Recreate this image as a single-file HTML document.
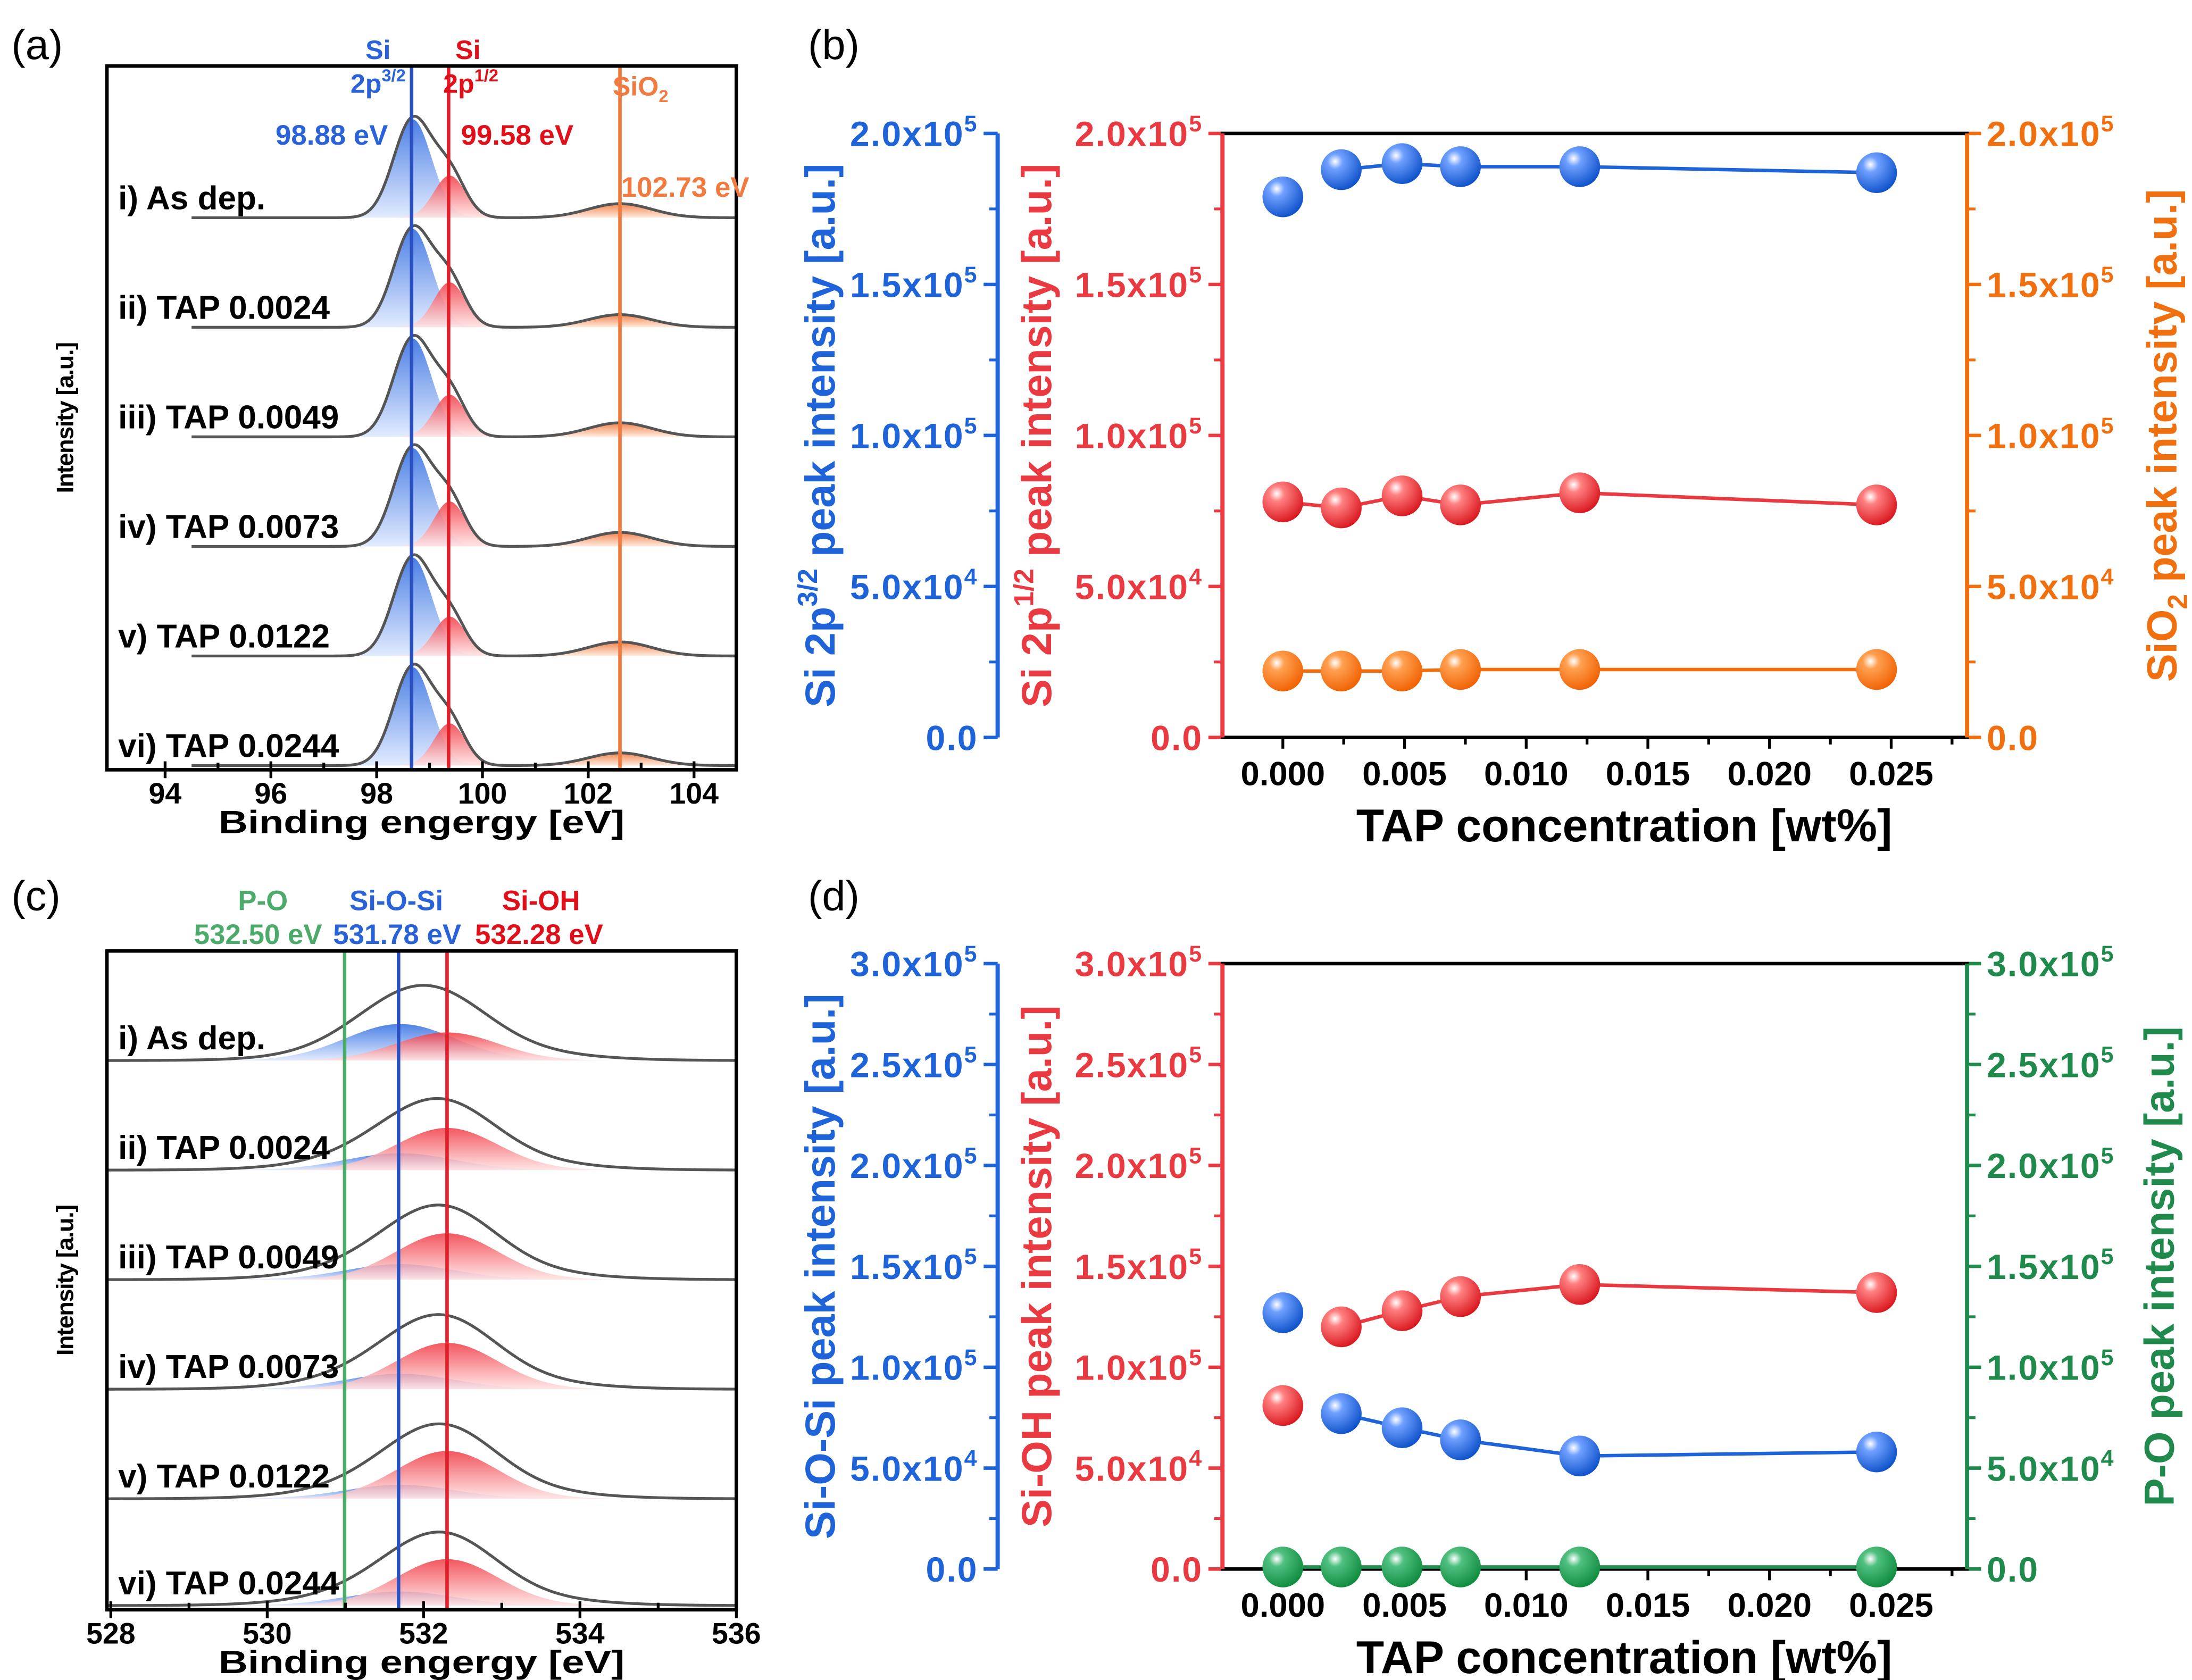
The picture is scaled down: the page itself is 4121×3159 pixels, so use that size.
<!DOCTYPE html>
<html><head><meta charset="utf-8"><style>
html,body{margin:0;padding:0;background:#fff;}
svg{display:block;font-family:"Liberation Sans",sans-serif;font-weight:bold;}
</style></head><body>
<svg id="fig" width="4121" height="3159" viewBox="0 0 1560 1196" xmlns="http://www.w3.org/2000/svg">
<defs>
<radialGradient id="gb" cx="0.35" cy="0.3" r="0.75"><stop offset="0" stop-color="#ffffff"/><stop offset="0.25" stop-color="#6fa0ff"/><stop offset="1" stop-color="#0b4fc8"/></radialGradient>
<radialGradient id="gr" cx="0.35" cy="0.3" r="0.75"><stop offset="0" stop-color="#ffffff"/><stop offset="0.25" stop-color="#ff8080"/><stop offset="1" stop-color="#d8141c"/></radialGradient>
<radialGradient id="go" cx="0.35" cy="0.3" r="0.75"><stop offset="0" stop-color="#ffffff"/><stop offset="0.25" stop-color="#ffa050"/><stop offset="1" stop-color="#f06000"/></radialGradient>
<radialGradient id="gg" cx="0.35" cy="0.3" r="0.75"><stop offset="0" stop-color="#ffffff"/><stop offset="0.25" stop-color="#50c080"/><stop offset="1" stop-color="#0d8a3c"/></radialGradient>
<linearGradient id="fb" x1="0" y1="1" x2="0" y2="0"><stop offset="0" stop-color="#dde8ff"/><stop offset="1" stop-color="#2d6ae0"/></linearGradient>
<linearGradient id="fr" x1="0" y1="1" x2="0" y2="0"><stop offset="0" stop-color="#ffe2e2"/><stop offset="1" stop-color="#f03a44"/></linearGradient>
<linearGradient id="fo" x1="0" y1="1" x2="0" y2="0"><stop offset="0" stop-color="#ffe8d8"/><stop offset="1" stop-color="#f07030"/></linearGradient>
</defs>
<g id="root"></g>
</svg>
<script>
// ---- data ----
const tapConc = [0, 0.0024, 0.0049, 0.0073, 0.0122, 0.0244];
const bSi32 = [179000, 188000, 190000, 189000, 189000, 187000];
const bSi12 = [78000, 76000, 80000, 77000, 81000, 77000];
const bSiO2 = [22000, 22000, 22000, 22500, 22500, 22500];
const dSiOSi = [127000, 77000, 70000, 64000, 56000, 58000];
const dSiOH = [81000, 120000, 128000, 135000, 141000, 137000];
const dPO = [1000, 1000, 1000, 1000, 1000, 1000];
const yTicksB = [0, 50000, 100000, 150000, 200000];
const yTickMantB = ["0.0","5.0x10","1.0x10","1.5x10","2.0x10"];
const yTickExpB = ["","4","5","5","5"];
const yTicksD = [0, 50000, 100000, 150000, 200000, 250000, 300000];
const yTickMantD = ["0.0","5.0x10","1.0x10","1.5x10","2.0x10","2.5x10","3.0x10"];
const yTickExpD = ["","4","5","5","5","5","5"];
const xTicks = [0, 0.005, 0.010, 0.015, 0.020, 0.025];
const xTickLabels = ["0.000","0.005","0.010","0.015","0.020","0.025"];
const sampleLabels = ["i) As dep.","ii) TAP 0.0024","iii) TAP 0.0049","iv) TAP 0.0073","v) TAP 0.0122","vi) TAP 0.0244"];
const aSi32H = [70, 70, 70, 70, 70, 70];
const aSi12H = [30, 32, 30, 32, 28, 30];
const aSiO2H = [10, 9, 10, 10, 10, 9];
const cSiOSiH = [26, 12, 11, 11, 10, 10];
const cSiOHH = [20, 30, 33, 33, 34, 33];

const NS="http://www.w3.org/2000/svg";
const root=document.getElementById('root');
function el(tag,attrs,parent,name,inter){const e=document.createElementNS(NS,tag);for(const k in attrs)e.setAttribute(k,attrs[k]);


(parent||root).appendChild(e);return e;}
function txt(x,y,s,size,fill,anchor,parent,name,extra){const t=el('text',Object.assign({x:x,y:y,'font-size':size,fill:fill,'text-anchor':anchor||'start'},extra||{}),parent,name,false);t.textContent=s;return t;}
function rich(x,y,parts,size,fill,anchor,name,transform,parent,extra){
 const t=el('text',Object.assign({x:x,y:y,'font-size':size,fill:fill,'text-anchor':anchor||'start',transform:transform||''},extra||{}),parent||root,name,false);
 let cur=0;
 parts.forEach(p=>{const s=document.createElementNS(NS,'tspan');let target=0;
  if(p[1]==='sup'){target=-size*0.42;s.setAttribute('font-size',size*0.65);}
  else if(p[1]==='sub'){target=size*0.25;s.setAttribute('font-size',size*0.65);}
  s.setAttribute('dy',target-cur);cur=target;s.textContent=p[0];t.appendChild(s);});
 return t;}

txt(8,42,"(a)",30,"#000","start",null,"panel-a-label",{"font-weight":"normal"});
txt(575,42,"(b)",30,"#000","start",null,"panel-b-label",{"font-weight":"normal"});
txt(8,648,"(c)",30,"#000","start",null,"panel-c-label",{"font-weight":"normal"});
txt(575,648,"(d)",30,"#000","start",null,"panel-d-label",{"font-weight":"normal"});

function gauss(x,c,s){return Math.exp(-0.5*((x-c)/s)**2);}
function spectra(o){
 const g=el('g',{},root,o.name,false);
 const X=v=>o.x0+(v-o.e0)/(o.e1-o.e0)*(o.x1-o.x0);
 o.baselines.forEach((b,i)=>{
  const comps=o.comps(i);
  comps.forEach(cp=>{if(!cp.fill)return;let d=`M${X(cp.c-3.5*cp.s)},${b}`;for(let e=cp.c-3.5*cp.s;e<=cp.c+3.5*cp.s;e+=0.02)d+=`L${X(e)},${b-cp.h*gauss(e,cp.c,cp.s)}`;d+=`L${X(cp.c+3.5*cp.s)},${b}Z`;
   el('path',{d:d,fill:cp.fill,opacity:0.85},g,'component-peak',false);});
  let d='';for(let e=o.bs;e<=o.e1;e+=0.02){let y=0;comps.forEach(cp=>y+=cp.h*gauss(e,cp.c,cp.s));d+=(d?'L':'M')+X(e)+','+(b-y);}
  el('path',{d:d,fill:'none',stroke:'#555','stroke-width':2},g,'spectrum-envelope',false);
  txt(o.lx,b-o.ldy,sampleLabels[i],23.5,'#000','start',g,'sample-label');
 });
 o.vlines.forEach(v=>el('line',{x1:X(v.e),x2:X(v.e),y1:o.y0,y2:o.y1,stroke:v.col,'stroke-width':2.5},g,'reference-line',false));
 el('rect',{x:o.x0,y:o.y0,width:o.x1-o.x0,height:o.y1-o.y0,fill:'none',stroke:'#000','stroke-width':2.5},g,'plot-frame',false);
 o.ticks.forEach(t=>{el('line',{x1:X(t),x2:X(t),y1:o.y1-6,y2:o.y1+6,stroke:'#000','stroke-width':2},g,'x-tick',false);
  if(t+o.minor<o.e1) el('line',{x1:X(t+o.minor),x2:X(t+o.minor),y1:o.y1,y2:o.y1-5,stroke:'#000','stroke-width':2},g,'x-minor-tick',false);
  txt(X(t),o.y1+24,String(t),21,'#000','middle',g,'x-tick-label');});
 txt((o.x0+o.x1)/2,o.y1+45,"Binding engergy [eV]",23,'#000','middle',g,'x-axis-title',{"textLength":"289","lengthAdjust":"spacingAndGlyphs"});
 txt(52,(o.y0+o.y1)/2,"Intensity [a.u.]",17,'#000','middle',g,'y-axis-title',{transform:`rotate(-90 52 ${(o.y0+o.y1)/2})`,"letter-spacing":"-0.5"});
}
spectra({name:'panel-a',x0:76,x1:524,y0:47,y1:548,e0:92.9,e1:104.8,ticks:[94,96,98,100,102,104],minor:1,bs:94.5,
 baselines:[155,233,311,389,467,545],lx:84,ldy:6,
 comps:i=>[{c:102.6,s:0.6,h:aSiO2H[i],fill:'url(#fo)'},{c:98.68,s:0.36,h:aSi32H[i],fill:'url(#fb)'},{c:99.38,s:0.3,h:aSi12H[i],fill:'url(#fr)'}],
 vlines:[{e:98.66,col:'#2a4fc0'},{e:99.36,col:'#e0202a'},{e:102.6,col:'#f07a40'}]});
spectra({name:'panel-c',x0:76,x1:524,y0:677,y1:1146,e0:527.95,e1:536.0,ticks:[528,530,532,534,536],minor:1,bs:527.95,
 baselines:[755,833,911,989,1067,1143],lx:84,ldy:8,
 comps:i=>[{c:531.7,s:0.7,h:cSiOSiH[i],fill:'url(#fb)'},{c:532.3,s:0.65,h:cSiOHH[i],fill:'url(#fr)'},{c:532.2,s:1.2,h:12,fill:null}],
 vlines:[{e:530.99,col:'#4caa6a'},{e:531.68,col:'#2a4fc0'},{e:532.3,col:'#e0202a'}]});

txt(269,42,"Si",19,'#2a62d8','middle',null,'si32-label');rich(269,66,[["2p","n"],["3/2","sup"]],19,'#2a62d8','middle','si32-sub');
txt(333,42,"Si",19,'#e0101a','middle',null,'si12-label');rich(335,66,[["2p","n"],["1/2","sup"]],19,'#e0101a','middle','si12-sub');
rich(436,68,[["SiO","n"],["2","sub"]],19,'#f07a40','start','sio2-label');
txt(196,103,"98.88 eV",20,'#2a62d8','start',null,'si32-energy');
txt(328,103,"99.58 eV",20,'#e0101a','start',null,'si12-energy');
txt(442,140,"102.73 eV",20,'#f07a40','start',null,'sio2-energy');
txt(187,648,"P-O",20,'#4caa6a','middle',null,'po-label');
txt(282,648,"Si-O-Si",20,'#2a62d8','middle',null,'siosi-label');
txt(385,648,"Si-OH",20,'#e0101a','middle',null,'sioh-label');
txt(138,672,"532.50 eV",20,'#4caa6a','start',null,'po-energy');
txt(237,672,"531.78 eV",20,'#2a62d8','start',null,'siosi-energy');
txt(338,672,"532.28 eV",20,'#e0101a','start',null,'sioh-energy');

function scatter(o){
 const g=el('g',{},root,o.name,false);
 const x0=870,x1=1400;const X=v=>913+v*17320;
 const Y=v=>o.y1-v/o.ymax*(o.y1-o.y0);
 el('line',{x1:710,x2:710,y1:o.y0,y2:o.y1,stroke:o.c1,'stroke-width':3},g,'left-axis-1',false);
 o.ticks.forEach((t,i)=>{const y=Y(t);
  el('line',{x1:710,x2:700,y1:y,y2:y,stroke:o.c1,'stroke-width':2.5},g,'y1-tick',false);
  el('line',{x1:x0,x2:x0-10,y1:y,y2:y,stroke:o.c2,'stroke-width':2.5},g,'y2-tick',false);
  el('line',{x1:x1,x2:x1+10,y1:y,y2:y,stroke:o.c3,'stroke-width':2.5},g,'y3-tick',false);
  if(i<o.ticks.length-1){const ym=Y((t+o.ticks[i+1])/2);
   el('line',{x1:710,x2:704,y1:ym,y2:ym,stroke:o.c1,'stroke-width':2},g,'y1-minor-tick',false);
   el('line',{x1:x0,x2:x0-6,y1:ym,y2:ym,stroke:o.c2,'stroke-width':2},g,'y2-minor-tick',false);
   el('line',{x1:x1,x2:x1+6,y1:ym,y2:ym,stroke:o.c3,'stroke-width':2},g,'y3-minor-tick',false);}
  const parts=[[o.mant[i],'n'],[o.exp[i],'sup']];
  const ex={"letter-spacing":"0.8"};
  rich(696,y+9,parts,25,o.c1,'end','y1-tick-label',null,g,ex);
  rich(856,y+9,parts,25,o.c2,'end','y2-tick-label',null,g,ex);
  rich(1414,y+9,parts,25,o.c3,'start','y3-tick-label',null,g,ex);
 });
 el('rect',{x:x0,y:o.y0,width:x1-x0,height:o.y1-o.y0,fill:'none',stroke:'#000','stroke-width':2.5},g,'plot-frame',false);
 el('line',{x1:x0,x2:x0,y1:o.y0,y2:o.y1,stroke:o.c2,'stroke-width':3},g,'left-axis-2',false);
 el('line',{x1:x1,x2:x1,y1:o.y0,y2:o.y1,stroke:o.c3,'stroke-width':3},g,'right-axis',false);
 xTicks.forEach((t,i)=>{el('line',{x1:X(t),x2:X(t),y1:o.y1,y2:o.y1+8,stroke:'#000','stroke-width':2},g,'x-tick',false);
  el('line',{x1:X(t+0.0025),x2:X(t+0.0025),y1:o.y1,y2:o.y1+5,stroke:'#000','stroke-width':2},g,'x-minor-tick',false);
  txt(X(t),o.y1+34,xTickLabels[i],24,'#000','middle',g,'x-tick-label');});
 txt(1156,o.y1+74,"TAP concentration [wt%]",32.5,'#000','middle',g,'x-axis-title');
 const cy=(o.y0+o.y1)/2;
 o.titles.forEach(tt=>rich(tt.x,cy,tt.parts,30,tt.c,'middle',tt.n,`rotate(-90 ${tt.x} ${cy})`,g));
 o.series.forEach(s=>{
  let d='';s.v.forEach((v,i)=>{if(i<s.start)return;d+=(d?'L':'M')+X(tapConc[i])+','+Y(v);});
  el('path',{d:d,fill:'none',stroke:s.col,'stroke-width':2.5},g,s.n+'-line',false);
  s.v.forEach((v,i)=>el('circle',{cx:X(tapConc[i]),cy:Y(v),r:14.5,fill:s.grad},g,s.n+'-point',false));
 });
}
scatter({name:'panel-b',y0:95,y1:525,ymax:200000,ticks:yTicksB,mant:yTickMantB,exp:yTickExpB,c1:'#1e64d8',c2:'#e83a40',c3:'#f07010',
 titles:[{x:594,parts:[["Si 2p","n"],["3/2","sup"],[" peak intensity [a.u.]","n"]],c:'#1e64d8',n:'y1-axis-title'},
         {x:748,parts:[["Si 2p","n"],["1/2","sup"],[" peak intensity [a.u.]","n"]],c:'#e83a40',n:'y2-axis-title'},
         {x:1549,parts:[["SiO","n"],["2","sub"],[" peak intensity [a.u.]","n"]],c:'#f07010',n:'y3-axis-title'}],
 series:[{v:bSiO2,col:'#f07010',grad:'url(#go)',n:'sio2',start:0},{v:bSi12,col:'#e83a40',grad:'url(#gr)',n:'si12',start:0},{v:bSi32,col:'#1e64d8',grad:'url(#gb)',n:'si32',start:1}]});
scatter({name:'panel-d',y0:686,y1:1117,ymax:300000,ticks:yTicksD,mant:yTickMantD,exp:yTickExpD,c1:'#1e64d8',c2:'#e83a40',c3:'#1f8a4c',
 titles:[{x:594,parts:[["Si-O-Si peak intensity [a.u.]","n"]],c:'#1e64d8',n:'y1-axis-title'},
         {x:748,parts:[["Si-OH peak intensity [a.u.]","n"]],c:'#e83a40',n:'y2-axis-title'},
         {x:1547,parts:[["P-O peak intensity [a.u.]","n"]],c:'#1f8a4c',n:'y3-axis-title'}],
 series:[{v:dPO,col:'#1f8a4c',grad:'url(#gg)',n:'po',start:0},{v:dSiOH,col:'#e83a40',grad:'url(#gr)',n:'sioh',start:1},{v:dSiOSi,col:'#1e64d8',grad:'url(#gb)',n:'siosi',start:1}]});
</script>
</body></html>
